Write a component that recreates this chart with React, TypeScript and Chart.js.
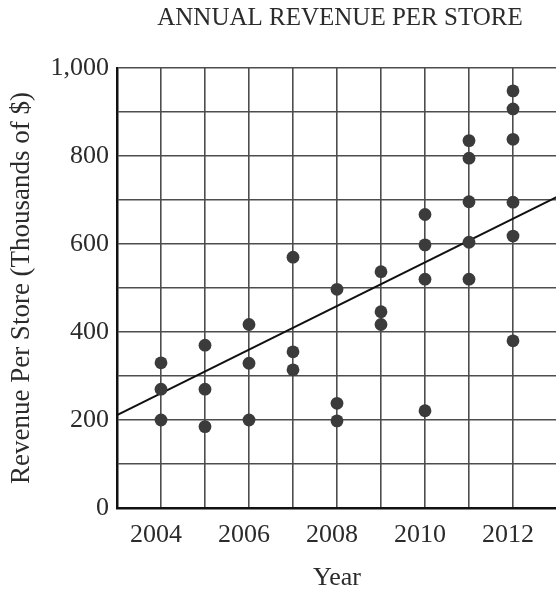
import React, { useEffect, useRef } from 'react';
import { Chart, registerables } from 'chart.js';

Chart.register(...registerables);

// ---- data ----
const years = [2004, 2005, 2006, 2007, 2008, 2009, 2010, 2011, 2012];
const revenue2004 = [330, 270, 200];
const revenue2005 = [370, 270, 185];
const revenue2006 = [417, 329, 200];
const revenue2007 = [570, 355, 314];
const revenue2008 = [497, 238, 198];
const revenue2009 = [537, 446, 417];
const revenue2010 = [667, 598, 520, 221];
const revenue2011 = [835, 795, 696, 604, 520];
const revenue2012 = [948, 907, 838, 695, 618, 380];
const revenueByYear = [
  revenue2004, revenue2005, revenue2006, revenue2007, revenue2008,
  revenue2009, revenue2010, revenue2011, revenue2012,
];

// line of best fit (end points)
const trendYears = [2003, 2013];
const trendRevenue = [211, 707];

// tick labels
const xLabelYears = [2004, 2006, 2008, 2010, 2012];
const yLabelValues = [0, 200, 400, 600, 800, 1000];

const FONT = "'Liberation Serif', 'Times New Roman', serif";
const TEXT = '#2b2b2b';

export default function App() {
  const ref = useRef<HTMLCanvasElement | null>(null);

  useEffect(() => {
    if (!ref.current) return;
    const points: { x: number; y: number }[] = [];
    years.forEach((yr, i) => {
      revenueByYear[i].forEach((v) => points.push({ x: yr, y: v }));
    });
    const trend = trendYears.map((yr, i) => ({ x: yr, y: trendRevenue[i] }));

    const chart = new Chart(ref.current, {
      type: 'scatter',
      data: {
        datasets: [
          {
            type: 'scatter',
            data: points,
            pointRadius: 6.4,
            pointBackgroundColor: '#3b3b3b',
            pointBorderWidth: 0,
            order: 1,
          },
          {
            type: 'line',
            data: trend,
            borderColor: '#111',
            borderWidth: 2,
            pointRadius: 0,
            fill: false,
            order: 2,
          },
        ],
      },
      options: {
        animation: false,
        responsive: false,
        layout: { padding: 0 },
        plugins: {
          legend: { display: false },
          tooltip: { enabled: false },
          title: {
            display: true,
            text: 'ANNUAL REVENUE PER STORE',
            color: TEXT,
            font: { family: FONT, size: 25, weight: 'normal' },
            padding: { top: 3, bottom: 35 },
          },
        },
        scales: {
          x: {
            type: 'linear',
            min: 2003,
            max: 2013,
            afterFit: (s: any) => { s.height = 82; },
            grid: { color: '#4d4d4d', lineWidth: 1.6, drawTicks: false },
            border: { color: '#111', width: 2.5 },
            ticks: {
              stepSize: 1,
              autoSkip: false,
              maxRotation: 0,
              padding: 12,
              labelOffset: -5,
              color: TEXT,
              font: { family: FONT, size: 26 },
              callback: (v: any) => (xLabelYears.includes(Number(v)) ? String(v) : ''),
            },
            title: {
              display: true,
              text: 'Year',
              color: TEXT,
              font: { family: FONT, size: 26 },
              padding: { top: 0, bottom: -4 },
            },
          },
          y: {
            type: 'linear',
            min: 0,
            max: 1000,
            afterFit: (s: any) => { s.width = 117; },
            grid: { color: '#4d4d4d', lineWidth: 1.6, drawTicks: false },
            border: { color: '#111', width: 2.5 },
            ticks: {
              stepSize: 100,
              autoSkip: false,
              padding: 8,
              color: TEXT,
              font: { family: FONT, size: 26 },
              callback: (v: any) =>
                yLabelValues.includes(Number(v)) ? Number(v).toLocaleString('en-US') : '',
            },
            title: {
              display: true,
              text: 'Revenue Per Store (Thousands of $)',
              color: TEXT,
              font: { family: FONT, size: 27 },
              padding: { top: 6, bottom: 0 },
            },
          },
          yRight: {
            type: 'linear',
            position: 'right',
            min: 0,
            max: 1000,
            afterFit: (s: any) => { s.width = 123; },
            grid: { display: false, drawTicks: false },
            border: { display: false },
            ticks: { display: false },
          },
        },
      },
    } as any);
    return () => chart.destroy();
  }, []);

  return (
    <div
      style={{
        position: 'fixed',
        left: 0,
        top: 0,
        width: 556,
        height: 590,
        overflow: 'hidden',
        background: '#fff',
      }}
    >
      <canvas ref={ref} width={680} height={590} style={{ display: 'block' }} />
    </div>
  );
}
